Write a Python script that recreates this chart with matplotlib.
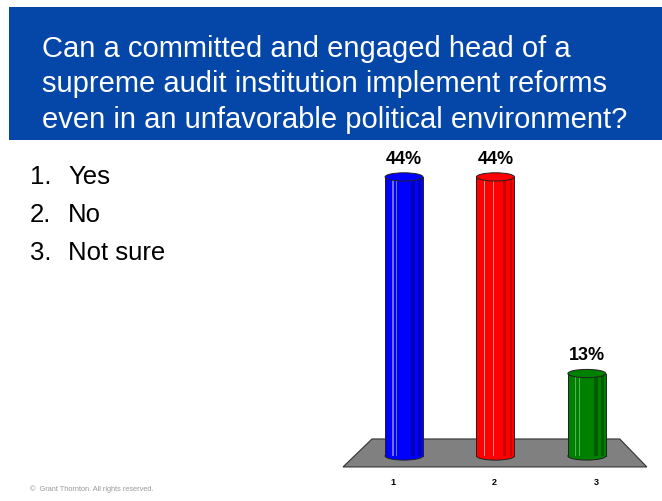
import numpy as np
import matplotlib
matplotlib.use("Agg")
import matplotlib.pyplot as plt
from matplotlib.patches import Rectangle, Ellipse, Polygon

title_lines = [
    "Can a committed and engaged head of a",
    "supreme audit institution implement reforms",
    "even in an unfavorable political environment?",
]
answers = ["Yes", "No", "Not sure"]
categories = ["1", "2", "3"]
values = [44, 44, 13]
bar_colors = ["#0000ff", "#ff0000", "#008000"]
dark_colors = ["#0000b8", "#c80000", "#005c00"]
light_colors = ["#7070ff", "#ff8a8a", "#55b055"]

W, H = 662, 502
fig = plt.figure(figsize=(W / 100, H / 100), dpi=100)
fig.patch.set_facecolor("white")

def fx(px):
    return px / W

def fy(py):
    return 1 - py / H

# blue header band with the question
fig.patches.append(Rectangle((fx(9), fy(141)), fx(W - 9), (141 - 8) / H,
                             transform=fig.transFigure, facecolor="#0547a9",
                             edgecolor="none", zorder=0))
for i, line in enumerate(title_lines):
    fig.text(fx(42), fy(57 + 35.5 * i), line, color="white", fontsize=21,
             family="Liberation Sans", va="baseline", ha="left")

# answer list
for i, a in enumerate(answers):
    y = fy(184 + 38 * i)
    fig.text(fx(30), y, f"{i + 1}.", fontsize=18.5, family="Liberation Sans",
             va="baseline", ha="left")
    fig.text(fx(68), y, a, fontsize=18.5, family="Liberation Sans",
             va="baseline", ha="left")

fig.text(fx(30), fy(489), "\u00a9  Grant Thornton. All rights reserved.",
         fontsize=5.3, color="#999999", family="Liberation Sans", va="center")

# chart area
ax = fig.add_axes([fx(340), 0, fx(320), fy(150)])
ax.set_xlim(-0.70, 2.80)
ax.set_ylim(-7.1, 48.4)
ax.axis("off")

x = np.arange(len(values))
bw = 0.415
cap_h = 1.3

# grey floor in perspective
floor = Polygon([(x[0] - 0.667, -1.73), (x[0] - 0.35, 2.68),
                 (x[-1] + 0.36, 2.68), (x[-1] + 0.656, -1.73)],
                closed=True, facecolor="#808080", edgecolor="#333333",
                linewidth=0.8, zorder=1)
ax.add_patch(floor)

for xi, v, c, dc, lc in zip(x, values, bar_colors, dark_colors, light_colors):
    # cylinder body with some vertical shading
    ax.bar(xi, v, width=bw, bottom=0, color=c, edgecolor="none", zorder=3)
    ax.add_patch(Ellipse((xi, 0), bw, cap_h, facecolor=c, edgecolor="#222222",
                         linewidth=0.7, zorder=2.9))
    for off, col, w in [(-0.12, lc, 0.012), (-0.08, lc, 0.008),
                        (-0.02, lc, 0.006), (0.10, dc, 0.04), (0.17, dc, 0.03)]:
        ax.bar(xi + off, v, width=w, bottom=0, color=col, edgecolor="none",
               zorder=3.1)
    ax.plot([xi - bw / 2, xi - bw / 2], [0, v], color="#222222", lw=0.7, zorder=3.2)
    ax.plot([xi + bw / 2, xi + bw / 2], [0, v], color="#222222", lw=0.7, zorder=3.2)
    ax.add_patch(Ellipse((xi, v), bw, cap_h, facecolor=c, edgecolor="#222222",
                         linewidth=0.7, zorder=3.3))
    ax.text(xi, v + 1.6, f"{v}%", ha="center", va="bottom", fontsize=13,
            fontweight="bold", family="Liberation Sans", zorder=4)

# category labels along the front edge of the floor
for xi, lab in zip(x, categories):
    ax.text(xi + 0.11 * (xi - 1) - 0.01, -4.0, lab, ha="center", va="center",
            fontsize=6.5, fontweight="bold", family="Liberation Sans")

fig.savefig("out.png", dpi=100)
